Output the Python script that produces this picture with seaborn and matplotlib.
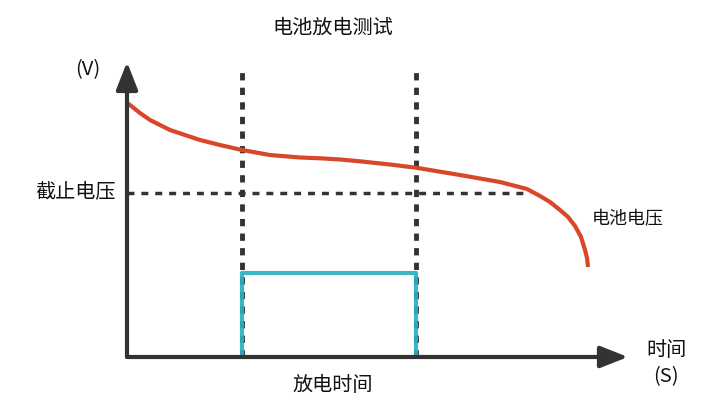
import matplotlib
matplotlib.use("Agg")
import matplotlib.pyplot as plt
import seaborn as sns
import numpy as np
import pandas as pd

sns.set_theme(style="white")
plt.rcParams['font.family'] = ['Noto Sans CJK SC', 'DejaVu Sans']

# data (arbitrary units: time 0..100, voltage 0..100)
curve_time = [0, 0.6, 2.59, 4.59, 8.58, 14.57, 18.56, 22.95, 28.54, 34.53, 38.52, 42.51,
              46.51, 52.5, 57.68, 66.47, 74.45, 79.84, 82.44, 84.43, 86.43, 88.02, 89.42,
              90.62, 91.42, 91.82, 92.02]
curve_volt = [86.10, 85.42, 82.71, 80.34, 76.95, 73.56, 71.86, 70.17, 68.47, 67.63, 67.36,
              66.95, 66.34, 65.25, 64.17, 61.69, 59.32, 56.95, 54.58, 52.54, 49.83, 47.46,
              44.41, 40.68, 36.27, 33.56, 30.51]
cutoff_volt = 55.6
cutoff_end = 80.4
disch_start = 23.0
disch_end = 57.7
disch_level = 28.5
marker_top = 96.6

title = "电池放电测试"
y_label = "(V)"
cutoff_label = "截止电压"
curve_label = "电池电压"
x_label_1 = "时间"
x_label_2 = "(S)"
disch_label = "放电时间"

W, H = 710, 415
fig = plt.figure(figsize=(W / 100, H / 100), dpi=100)
x0, y0 = 127, 357
x1, y1 = 628, 62
ax = fig.add_axes([x0 / W, (H - y0) / H, (x1 - x0) / W, (y0 - y1) / H])
ax.set_xlim(0, 100)
ax.set_ylim(0, 100)
ax.axis("off")

dark = "#333333"
red = "#d9472b"
teal = "#2bb0bf"

df = pd.DataFrame({"t": curve_time, "v": curve_volt})
sns.lineplot(data=df, x="t", y="v", ax=ax, color=red, lw=3, sort=False, clip_on=False,
             solid_joinstyle="round", solid_capstyle="butt", zorder=3)

# cutoff horizontal dashed
sns.lineplot(x=[0, cutoff_end], y=[cutoff_volt, cutoff_volt], ax=ax, color=dark, lw=2.5,
             linestyle=(0, (2, 2)), zorder=2)
# vertical dashed markers
for xv in (disch_start, disch_end):
    ax.plot([xv, xv], [0, marker_top], color=dark, lw=3.5, linestyle=(0, (1.5, 1.5)),
            clip_on=False, zorder=2)

# discharge rectangle
ax.plot([disch_start, disch_start, disch_end, disch_end], [0, disch_level, disch_level, 0],
        color=teal, lw=3, clip_on=False, alpha=0.92, zorder=4)

# axes with arrows
for xy in [(0, 100), (100, 0)]:
    ax.annotate("", xy=xy, xytext=(0, 0),
                arrowprops=dict(arrowstyle="-|>,head_length=1.4,head_width=0.55", color=dark,
                                lw=3, shrinkA=0, shrinkB=0), annotation_clip=False, zorder=5)

fs = 14.5
tc = "#111111"
fig.text(333 / W, 1 - 28 / H, title, ha="center", va="center", fontsize=fs, color=tc)
fig.text(88 / W, 1 - 70 / H, y_label, ha="center", va="center", fontsize=fs, color=tc)
fig.text(116 / W, 1 - 193 / H, cutoff_label, ha="right", va="center", fontsize=fs, color=tc)
fig.text(592 / W, 1 - 219 / H, curve_label, ha="left", va="center", fontsize=fs - 1.5, color=tc)
fig.text(666 / W, 1 - 350 / H, x_label_1, ha="center", va="center", fontsize=fs, color=tc)
fig.text(666 / W, 1 - 377 / H, x_label_2, ha="center", va="center", fontsize=fs, color=tc)
fig.text(333 / W, 1 - 385 / H, disch_label, ha="center", va="center", fontsize=fs, color=tc)

fig.savefig("out.png", dpi=100)
